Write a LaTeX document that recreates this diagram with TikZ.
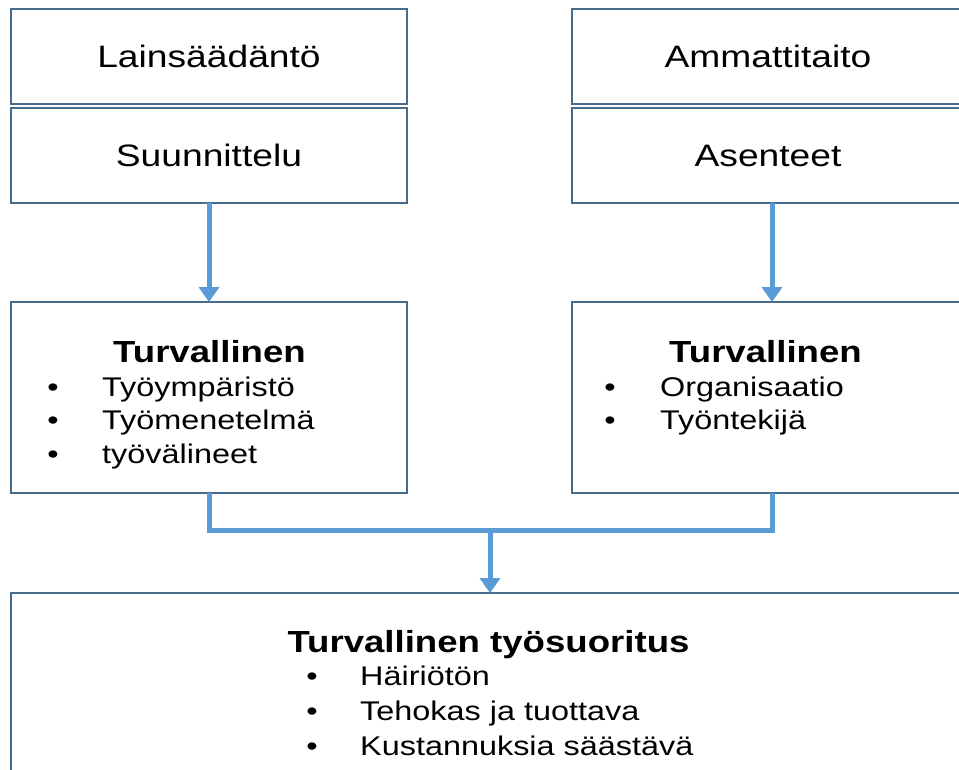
\documentclass[tikz,border=0pt]{standalone}
\usepackage{fontspec}
\setmainfont[FakeStretch=1.2]{Liberation Sans}
\usetikzlibrary{arrows.meta}
\definecolor{boxline}{RGB}{72,108,142}
\definecolor{arrblue}{RGB}{91,155,213}
\begin{document}
\begin{tikzpicture}[x=1pt,y=-1pt,
  box/.style={draw=boxline,line width=2pt,rectangle,inner sep=0pt,outer sep=0pt},
  lab/.style={font=\fontsize{31}{37}\selectfont},
  ttl/.style={font=\fontsize{30.5}{36}\selectfont\bfseries,inner sep=0pt,anchor=base},
  bul/.style={font=\fontsize{27}{32}\selectfont,inner sep=0pt,anchor=base},
  itm/.style={font=\fontsize{27}{32}\selectfont,inner sep=0pt,anchor=base west},
  conn/.style={draw=arrblue,line width=5pt},
  arr/.style={conn,-{Triangle[length=15pt,width=20pt]}}]
\useasboundingbox (0,0) rectangle (959,769);
\clip (0,0) rectangle (959,769);
% top boxes
\node[box,lab,minimum width=396pt,minimum height=95pt] (lain) at (209,56.5) {Lainsäädäntö};
\node[box,lab,minimum width=396pt,minimum height=95pt] (suun) at (209,155.5) {Suunnittelu};
\node[box,lab,minimum width=392pt,minimum height=95pt] (amm) at (768,56.5) {Ammattitaito};
\node[box,lab,minimum width=392pt,minimum height=95pt] (ase) at (768,155.5) {Asenteet};
% middle boxes
\node[box,minimum width=396pt,minimum height=191pt] (tl) at (209,397.5) {};
\node[box,minimum width=392pt,minimum height=191pt] (tr) at (768,397.5) {};
% bottom box
\node[box,minimum width=958pt,minimum height=214pt] (bot) at (490,700) {};
% middle-left text
\node[ttl] (tlt) at (209.5,362) {Turvallinen};
\node[bul] (tlb1) at (53,396) {•};
\node[itm] (tli1) at (102,396) {Työympäristö};
\node[bul] (tlb2) at (53,429.5) {•};
\node[itm] (tli2) at (102,429.5) {Työmenetelmä};
\node[bul] (tlb3) at (53,463) {•};
\node[itm] (tli3) at (102,463) {työvälineet};
% middle-right text
\node[ttl] (trt) at (765.5,362) {Turvallinen};
\node[bul] (trb1) at (610,396) {•};
\node[itm] (tri1) at (660,396) {Organisaatio};
\node[bul] (trb2) at (610,429) {•};
\node[itm] (tri2) at (660,429) {Työntekijä};
% bottom text
\node[ttl] (bt) at (488.5,652) {Turvallinen työsuoritus};
\node[bul] (bb1) at (312,685) {•};
\node[itm] (bi1) at (360,685) {Häiriötön};
\node[bul] (bb2) at (312,720) {•};
\node[itm] (bi2) at (360,720) {Tehokas ja tuottava};
\node[bul] (bb3) at (312,755) {•};
\node[itm] (bi3) at (360,755) {Kustannuksia säästävä};
% connectors
\coordinate (jm) at (490,530);
\draw[arr] (suun.south) -- (tl.north);
\draw[arr] ([xshift=4pt]ase.south) -- ([xshift=4pt]tr.north);
\draw[conn,line join=miter] (tl.south) |- (jm) -| ([xshift=4pt]tr.south);
\draw[arr] (jm) -- (jm |- bot.north);
\end{tikzpicture}
\end{document}
